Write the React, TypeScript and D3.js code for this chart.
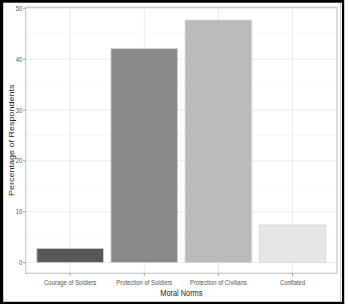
import React from "react";
import * as d3 from "d3";

const categories = ["Courage of Soldiers", "Protection of Soldiers", "Protection of Civilians", "Conflated"];
const values = [2.8, 42.1, 47.7, 7.4];
const fills = ["#585858", "#8a8a8a", "#bababa", "#e5e5e5"];
const yTicks = [0, 10, 20, 30, 40, 50];
const yMinor = [5, 15, 25, 35, 45];
const xTitle = "Moral Norms";
const yTitle = "Percentage of Respondents";

const W = 348;
const H = 308;
const P = { left: 25.7, right: 337, top: 7.3, bottom: 273.3 };
const SX = 0.82;

export default function App() {
  const x = d3
    .scaleBand<string>()
    .domain(categories)
    .range([P.left, P.right])
    .paddingInner(0.1)
    .paddingOuter(0.15);
  const y = d3.scaleLinear().domain([-2.1, 50.2]).range([P.bottom, P.top]);
  const cx = (c: string) => (x(c) as number) + x.bandwidth() / 2;

  return (
    <svg
      width={W}
      height={H}
      style={{ position: "absolute", left: 0, top: 0, background: "#fff" }}
      fontFamily="Liberation Sans, Arial, sans-serif"
    >
      <rect x={0} y={0} width={W} height={H} fill="#fff" />
      {/* minor grid */}
      {yMinor.map((t) => (
        <line key={"m" + t} x1={P.left} x2={P.right} y1={y(t)} y2={y(t)} stroke="#f3f3f3" strokeWidth={0.6} />
      ))}
      {/* major grid */}
      {yTicks.map((t) => (
        <line key={"g" + t} x1={P.left} x2={P.right} y1={y(t)} y2={y(t)} stroke="#ebebeb" strokeWidth={1} />
      ))}
      {categories.map((c) => (
        <line key={"v" + c} x1={cx(c)} x2={cx(c)} y1={P.top} y2={P.bottom} stroke="#ebebeb" strokeWidth={1} />
      ))}
      {/* bars */}
      {categories.map((c, i) => (
        <rect
          key={c}
          x={x(c)}
          y={y(values[i])}
          width={x.bandwidth()}
          height={y(0) - y(values[i])}
          fill={fills[i]}
          stroke="#d6d6d6"
          strokeWidth={0.8}
        />
      ))}
      {/* panel border */}
      <rect
        x={P.left}
        y={P.top}
        width={P.right - P.left}
        height={P.bottom - P.top}
        fill="none"
        stroke="#cfcfcf"
        strokeWidth={1.4}
      />
      {/* y ticks */}
      {yTicks.map((t) => (
        <g key={"yt" + t}>
          <line x1={P.left - 2.7} x2={P.left} y1={y(t)} y2={y(t)} stroke="#888" strokeWidth={0.8} />
          <text
            transform={`translate(${P.left - 3.4},${y(t) + 2.5}) scale(${SX},1)`}
            textAnchor="end"
            fontSize={7.2}
            fill="#555"
          >
            {t}
          </text>
        </g>
      ))}
      {/* x ticks */}
      {categories.map((c) => (
        <g key={"xt" + c}>
          <line x1={cx(c)} x2={cx(c)} y1={P.bottom} y2={P.bottom + 2.7} stroke="#888" strokeWidth={0.8} />
          <text
            transform={`translate(${cx(c)},284.5) scale(${SX},1)`}
            textAnchor="middle"
            fontSize={7.2}
            fill="#555"
          >
            {c}
          </text>
        </g>
      ))}
      {/* titles */}
      <text
        transform={`translate(${(P.left + P.right) / 2},295.7) scale(${SX},1)`}
        textAnchor="middle"
        fontSize={9}
        fill="#222"
      >
        {xTitle}
      </text>
      <text
        transform={`translate(13.7,${(P.top + P.bottom) / 2}) scale(${SX},1) rotate(-90)`}
        textAnchor="middle"
        fontSize={9}
        fill="#222"
      >
        {yTitle}
      </text>
      {/* outer frame */}
      <rect x={0} y={0} width={3.2} height={304} fill="#000" />
      <rect x={0} y={0} width={344} height={2.7} fill="#000" />
      <rect x={342} y={0} width={2.2} height={304} fill="#000" />
      <rect x={0} y={301.8} width={344.2} height={2.2} fill="#000" />
      <line x1={340.5} x2={340.5} y1={3} y2={301.5} stroke="#bbb" strokeWidth={0.8} />
    </svg>
  );
}
